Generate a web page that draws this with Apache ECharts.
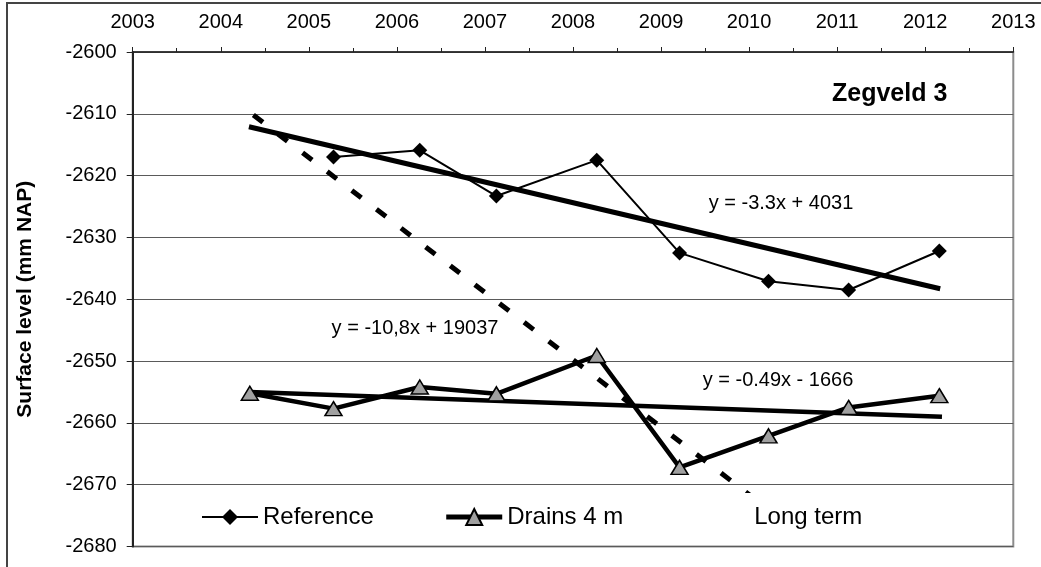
<!DOCTYPE html>
<html><head><meta charset="utf-8">
<script src="https://cdn.jsdelivr.net/npm/echarts@6/dist/echarts.min.js"></script>
<style>html,body{margin:0;padding:0;background:#fff}#c{width:1041px;height:567px}</style>
</head><body><div id="c"></div>
<script>
// ---- data ----
const xTicks = [2003, 2004, 2005, 2006, 2007, 2008, 2009, 2010, 2011, 2012, 2013];
const yTicks = [-2680, -2670, -2660, -2650, -2640, -2630, -2620, -2610, -2600];

const referenceYears  = [2005.28, 2006.26, 2007.13, 2008.27, 2009.21, 2010.22, 2011.13, 2012.16];
const referenceValues = [-2617.0, -2615.9, -2623.3, -2617.5, -2632.5, -2637.1, -2638.5, -2632.2];

const drainsYears  = [2004.33, 2005.28, 2006.26, 2007.13, 2008.27, 2009.21, 2010.22, 2011.13, 2012.16];
const drainsValues = [-2655.2, -2657.7, -2654.2, -2655.3, -2649.1, -2667.2, -2662.1, -2657.5, -2655.6];

const referenceTrendYears  = [2004.32, 2012.17];
const referenceTrendValues = [-2612.1, -2638.3];
const drainsTrendYears  = [2004.33, 2012.19];
const drainsTrendValues = [-2655.0, -2659.0];
const longTermYears  = [2004.37, 2010.77];
const longTermValues = [-2610.2, -2680.0];

const equationLabels = ['y = -3.3x + 4031', 'y = -10,8x + 19037', 'y = -0.49x - 1666'];
const panelTitle = 'Zegveld 3';
const yAxisTitle = 'Surface level (mm NAP)';
const legendNames = ['Reference', 'Drains 4 m', 'Long term'];

// ---- chart ----
const zip = (xs, ys) => xs.map((x, i) => [x, ys[i]]);
const FONT = 'Arial, "Liberation Sans", sans-serif';
const chart = echarts.init(document.getElementById('c'), null, {renderer: 'canvas'});

chart.setOption({
  animation: false,
  backgroundColor: '#ffffff',
  textStyle: {fontFamily: FONT, color: '#000'},
  grid: {left: 132.7, right: 27.7, top: 52, bottom: 20.5, show: true,
         borderColor: '#8c8c8c', borderWidth: 2, backgroundColor: 'transparent'},
  xAxis: {
    type: 'value', position: 'top',
    min: xTicks[0], max: xTicks[xTicks.length - 1], interval: 1,
    axisLine: {show: true, lineStyle: {color: '#222', width: 1.5}},
    axisTick: {show: true, inside: false, length: 5, lineStyle: {color: '#222', width: 1}},
    minorTick: {show: true, splitNumber: 2, length: 4, lineStyle: {color: '#222', width: 1}},
    splitLine: {show: false},
    axisLabel: {fontSize: 20, color: '#000', fontFamily: FONT, margin: 20,
                showMinLabel: true, showMaxLabel: true, formatter: v => String(v)}
  },
  yAxis: {
    type: 'value',
    min: yTicks[0], max: yTicks[yTicks.length - 1], interval: 10,
    name: yAxisTitle, nameLocation: 'middle', nameRotate: 90, nameGap: 97,
    nameTextStyle: {fontSize: 21, fontWeight: 'bold', color: '#000', fontFamily: FONT},
    axisLine: {show: true, onZero: false, lineStyle: {color: '#222', width: 2}},
    axisTick: {show: true, length: 6, lineStyle: {color: '#222', width: 1}},
    splitLine: {show: true, lineStyle: {color: '#5a5a5a', width: 1}},
    axisLabel: {fontSize: 20, color: '#000', fontFamily: FONT, margin: 16, formatter: v => String(v)}
  },
  legend: {
    data: [
      {name: legendNames[0], lineStyle: {width: 2, color: '#000'}},
      {name: legendNames[1], lineStyle: {width: 5, color: '#000'}},
      {name: legendNames[2], icon: 'none'}
    ],
    left: 190, top: 493, orient: 'horizontal',
    itemWidth: 56, itemHeight: 20, itemGap: 70,
    padding: [12, 11, 10, 11],
    backgroundColor: '#ffffff',
    textStyle: {fontSize: 24, color: '#000', fontFamily: FONT},
    selectedMode: false
  },
  graphic: [
    {type: 'rect', z: -10, silent: true,
     shape: {x: 7, y: 3, width: 1200, height: 800},
     style: {fill: 'none', stroke: '#444', lineWidth: 2}},
    {type: 'text', left: 832, top: 82, z: 100,
     style: {text: panelTitle, font: 'bold 25px ' + FONT, fill: '#000'}},
    {type: 'text', x: 781, y: 203, z: 100,
     style: {text: equationLabels[0], font: '20px ' + FONT, fill: '#000', textAlign: 'center', textVerticalAlign: 'middle'}},
    {type: 'text', x: 415, y: 328, z: 100,
     style: {text: equationLabels[1], font: '20px ' + FONT, fill: '#000', textAlign: 'center', textVerticalAlign: 'middle'}},
    {type: 'text', x: 778, y: 380, z: 100,
     style: {text: equationLabels[2], font: '20px ' + FONT, fill: '#000', textAlign: 'center', textVerticalAlign: 'middle'}}
  ],
  series: [
    {name: legendNames[2], type: 'line', data: zip(longTermYears, longTermValues),
     symbol: 'none', clip: true, z: 2,
     lineStyle: {color: '#000', width: 5, type: [12, 19], cap: 'butt'},
     itemStyle: {color: '#000'}},
    {name: 'Reference trend', type: 'line', data: zip(referenceTrendYears, referenceTrendValues),
     symbol: 'none', z: 3, lineStyle: {color: '#000', width: 5}},
    {name: 'Drains trend', type: 'line', data: zip(drainsTrendYears, drainsTrendValues),
     symbol: 'none', z: 3, lineStyle: {color: '#000', width: 4.5}},
    {name: legendNames[0], type: 'line', data: zip(referenceYears, referenceValues),
     symbol: 'diamond', symbolSize: 15, z: 4,
     lineStyle: {color: '#000', width: 2},
     itemStyle: {color: '#000', borderColor: '#000', borderWidth: 0}},
    {name: legendNames[1], type: 'line', data: zip(drainsYears, drainsValues),
     symbol: 'triangle', symbolSize: [17, 14], z: 5,
     lineStyle: {color: '#000', width: 4.5},
     itemStyle: {color: '#a0a0a0', borderColor: '#000', borderWidth: 1.5}}
  ]
});
</script></body></html>
